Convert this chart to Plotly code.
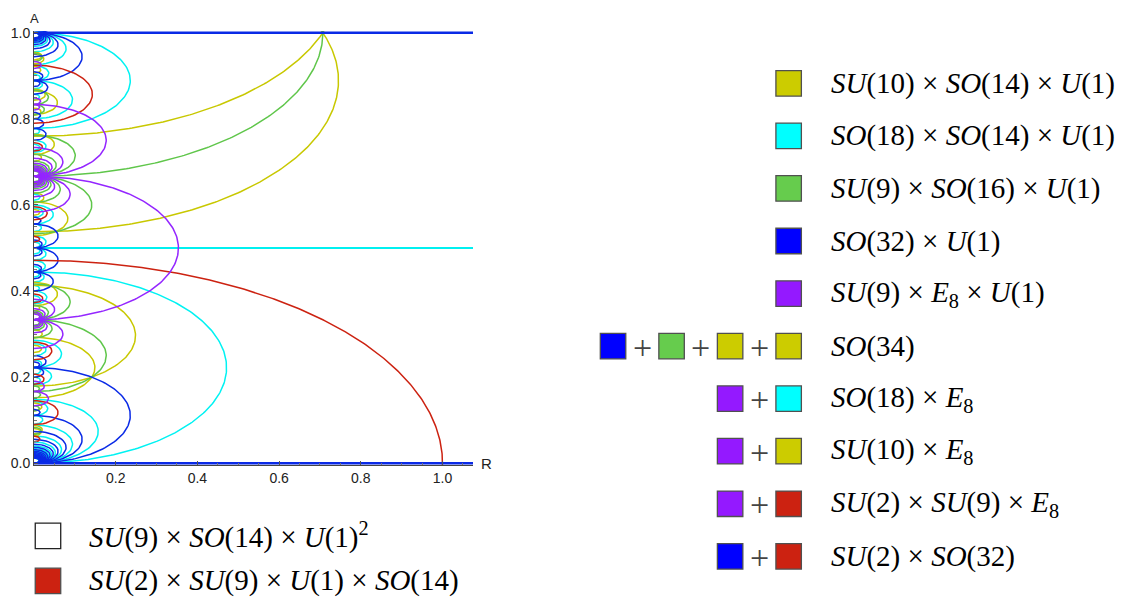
import math
import plotly.graph_objects as go

# ---------------- data: arcs as (q, w): centre A0 = q / (18 w), half-height = H1 / w ----------------
RED_ARCS = [(0, 1), (108, 7), (36, 17), (108, 23), (324, 31), (144, 41), (324, 47), (648, 49), (72, 71), (684, 73)]
YELLOW_ARCS = [(16, 1), (20, 1), (16, 3), (20, 5), (92, 9), (92, 13), (196, 13), (200, 15), (416, 27), (344, 31),
               (524, 31), (52, 37), (200, 37), (92, 39), (664, 39), (196, 41), (524, 41), (56, 43), (632, 43),
               (740, 45), (344, 53), (556, 53)]
GREEN_ARCS = [(18, 1), (18, 4), (54, 5), (90, 7), (54, 8), (126, 11), (162, 13), (90, 16), (198, 17), (234, 19),
              (126, 20), (306, 20), (270, 23), (306, 25), (162, 28), (414, 28), (342, 29), (378, 31), (198, 32),
              (414, 35), (594, 35), (450, 37), (54, 40), (234, 40), (486, 41), (522, 43), (126, 44), (270, 44),
              (558, 47), (594, 49), (162, 52), (306, 52), (630, 53), (126, 55), (666, 55)]
PURPLE_ARCS = [(9, 1), (27, 2), (45, 4), (27, 5), (63, 5), (45, 7), (81, 7), (99, 8), (27, 10), (117, 10), (63, 11),
               (135, 11), (81, 13), (153, 13), (45, 14), (171, 14), (189, 16), (99, 17), (207, 17), (117, 19),
               (225, 19), (243, 20), (333, 20), (261, 22), (333, 22), (135, 23), (279, 23), (153, 25), (297, 25),
               (315, 26), (387, 26)]
CYAN_ARCS = [(4, 1), (32, 2), (4, 3), (4, 5), (76, 5), (104, 6), (4, 7), (32, 7), (4, 9), (104, 10), (176, 10),
             (184, 10), (4, 11), (40, 11), (4, 13), (212, 13), (32, 14), (248, 14), (4, 15), (104, 15), (76, 16),
             (140, 16), (148, 16), (212, 16), (4, 17), (140, 17), (320, 18), (4, 19), (148, 19), (4, 21), (220, 21),
             (40, 22), (392, 22), (4, 23), (364, 23), (4, 25), (104, 25), (256, 26), (464, 26), (4, 27), (4, 29),
             (112, 29), (104, 30), (536, 30), (544, 30), (4, 31), (500, 31), (220, 32), (284, 32), (292, 32),
             (356, 32), (4, 33), (436, 33), (472, 34), (608, 34), (4, 35), (256, 35), (284, 35), (536, 35),
             (4, 37), (292, 37)]
BLUE_ARCS = [(2, 1), (2, 2), (34, 2), (2, 3), (2, 4), (34, 4), (38, 4), (70, 4), (74, 4), (2, 5), (38, 5), (2, 6),
             (106, 6), (2, 7), (110, 7), (2, 8), (34, 8), (110, 8), (142, 8), (2, 9), (2, 10), (38, 10), (142, 10),
             (178, 10), (2, 11), (178, 11), (2, 12), (106, 12), (110, 12), (214, 12), (2, 13), (106, 13), (2, 14),
             (110, 14), (142, 14), (250, 14), (2, 15), (218, 15), (2, 16), (34, 16), (254, 16), (286, 16), (2, 17),
             (70, 17), (2, 18), (322, 18)]
# half-height (in A) of the w = 1 arc of each family
H1 = {'red': 0.47140, 'yellow': 0.35136, 'green': 0.33333, 'purple': 0.16667, 'cyan': 0.22222, 'blue': 0.11111}
ASPECT = 2.12132  # R-extent / A-extent of each arc
BLUE_LEVELS = [0.0, 1.0]
CYAN_LEVELS = [0.5]

X_TICKS = [0.2, 0.4, 0.6, 0.8, 1.0]
Y_TICKS = [0.0, 0.2, 0.4, 0.6, 0.8, 1.0]

LINE_COL = {'red': '#cc2211', 'yellow': '#c8c800', 'green': '#5fc64a', 'purple': '#9426ff',
            'cyan': '#00f2f2', 'blue': '#0a2ae6'}
SQ_COL = {'red': '#cc2211', 'yellow': '#cccc00', 'green': '#66cc4d', 'purple': '#9419ff',
          'cyan': '#00ffff', 'blue': '#0000ff', 'white': '#ffffff'}

RIGHT_ROWS = [
    (['yellow'], '<i>SU</i>(10) × <i>SO</i>(14) × <i>U</i>(1)'),
    (['cyan'], '<i>SO</i>(18) × <i>SO</i>(14) × <i>U</i>(1)'),
    (['green'], '<i>SU</i>(9) × <i>SO</i>(16) × <i>U</i>(1)'),
    (['blue'], '<i>SO</i>(32) × <i>U</i>(1)'),
    (['purple'], '<i>SU</i>(9) × <i>E</i><sub>8</sub> × <i>U</i>(1)'),
    (['blue', 'green', 'yellow', 'yellow'], '<i>SO</i>(34)'),
    (['purple', 'cyan'], '<i>SO</i>(18) × <i>E</i><sub>8</sub>'),
    (['purple', 'yellow'], '<i>SU</i>(10) × <i>E</i><sub>8</sub>'),
    (['purple', 'red'], '<i>SU</i>(2) × <i>SU</i>(9) × <i>E</i><sub>8</sub>'),
    (['blue', 'red'], '<i>SU</i>(2) × <i>SO</i>(32)'),
]
LEFT_ROWS = [
    ('white', '<i>SU</i>(9) × <i>SO</i>(14) × <i>U</i>(1)<sup>2</sup>'),
    ('red', '<i>SU</i>(2) × <i>SU</i>(9) × <i>U</i>(1) × <i>SO</i>(14)'),
]

# ---------------- layout geometry ----------------
# the page body has an 8px margin, so the figure is placed at (8, 8) in the window
OFF = 8
W, H = 1110, 590
PL, PR, PT, PB = 33.5, 473.0, 30.6, 465.0      # plot area in window pixels
L, Rm, T, Bm = PL - OFF, W - (PR - OFF), PT - OFF, H - (PB - OFF)
PW, PH = W - L - Rm, H - T - Bm


def X(px):
    return (px - OFF - L) / PW


def Y(py):
    return (H - Bm - (py - OFF)) / PH


fig = go.Figure()

for lv in CYAN_LEVELS:
    fig.add_trace(go.Scatter(x=[0, 1.08], y=[lv, lv], mode='lines', line=dict(color='#00f0f0', width=2),
                             hoverinfo='skip', showlegend=False))

fams = {'cyan': CYAN_ARCS, 'yellow': YELLOW_ARCS, 'green': GREEN_ARCS, 'blue': BLUE_ARCS,
        'red': RED_ARCS, 'purple': PURPLE_ARCS}
for name in ['cyan', 'yellow', 'green', 'blue', 'red', 'purple']:
    xs, ys = [], []
    for q, w in fams[name]:
        a0 = q / (18.0 * w)
        b = H1[name] / w
        n = max(24, int(b * 900))
        for i in range(n + 1):
            t = -math.pi / 2 + math.pi * i / n
            xs.append(ASPECT * b * math.cos(t))
            ys.append(a0 + b * math.sin(t))
        xs.append(None)
        ys.append(None)
    fig.add_trace(go.Scatter(x=xs, y=ys, mode='lines', line=dict(color=LINE_COL[name], width=1.5),
                             hoverinfo='skip', showlegend=False))

for lv in BLUE_LEVELS:
    fig.add_trace(go.Scatter(x=[0, 1.08], y=[lv, lv], mode='lines', line=dict(color='#0a2ae6', width=2.6),
                             hoverinfo='skip', showlegend=False))

# ---------------- legend (squares + text) ----------------
shapes = []
annots = []
SQ = 25.5
SERIF = 'Liberation Serif'


def square(cx, cy, col):
    shapes.append(dict(type='rect', xref='paper', yref='paper',
                       x0=X(cx - SQ / 2), x1=X(cx + SQ / 2), y0=Y(cy + SQ / 2), y1=Y(cy - SQ / 2),
                       fillcolor=SQ_COL[col], line=dict(color='#505050' if col != 'white' else '#222222', width=1.3)))


def plus(cx, cy):
    annots.append(dict(x=X(cx), y=Y(cy + 1), xref='paper', yref='paper', text='+', showarrow=False,
                       xanchor='center', yanchor='middle', font=dict(family=SERIF, size=34, color='#444444')))


row_y0, row_dy = 83.0, 52.6
for i, (cols, label) in enumerate(RIGHT_ROWS):
    cy = row_y0 + i * row_dy
    ncol = len(cols)
    for j, c in enumerate(cols):
        cx = 789 - (ncol - 1 - j) * 58.6
        square(cx, cy, c)
        if j < ncol - 1:
            plus(cx + 29.3, cy)
    annots.append(dict(x=X(829), y=Y(cy), xref='paper', yref='paper', text=label, showarrow=False,
                       xanchor='left', yanchor='middle', font=dict(family=SERIF, size=29, color='black')))

for i, (c, label) in enumerate(LEFT_ROWS):
    cy = 536 + i * 45
    square(47.5, cy, c)
    annots.append(dict(x=X(87), y=Y(cy), xref='paper', yref='paper', text=label, showarrow=False,
                       xanchor='left', yanchor='middle', font=dict(family=SERIF, size=29, color='black')))

# axis names
annots.append(dict(x=X(34), y=Y(8.5), xref='paper', yref='paper', text='A', showarrow=False,
                   xanchor='center', yanchor='top', font=dict(family='Liberation Sans', size=13, color='#222')))
annots.append(dict(x=X(479), y=Y(463), xref='paper', yref='paper', text='R', showarrow=False,
                   xanchor='left', yanchor='middle', font=dict(family='Liberation Sans', size=15, color='#222')))

fig.update_layout(width=W, height=H, margin=dict(l=L, r=Rm, t=T, b=Bm, autoexpand=False), plot_bgcolor='white',
                  paper_bgcolor='white', shapes=shapes, annotations=annots, showlegend=False)
fig.update_xaxes(range=[0, 1.0746], showgrid=False, zeroline=False, showline=True, linecolor='#444', linewidth=1,
                 tickvals=X_TICKS, ticktext=['%.1f' % v for v in X_TICKS], ticks='inside', ticklen=4,
                 tickcolor='#555', tickfont=dict(family='Liberation Sans', size=14, color='#222'),
                 minor=dict(dtick=0.05, tick0=0, ticks='inside', ticklen=2.5, tickcolor='#777'))
fig.update_yaxes(range=[-0.004, 1.004], showgrid=False, zeroline=False, showline=True, linecolor='#444', linewidth=1,
                 tickvals=Y_TICKS, ticktext=['%.1f' % v for v in Y_TICKS], ticks='inside', ticklen=4,
                 tickcolor='#555', tickfont=dict(family='Liberation Sans', size=14, color='#222'),
                 minor=dict(dtick=0.05, tick0=0, ticks='inside', ticklen=2.5, tickcolor='#777'))
fig.write_html('out.html')
